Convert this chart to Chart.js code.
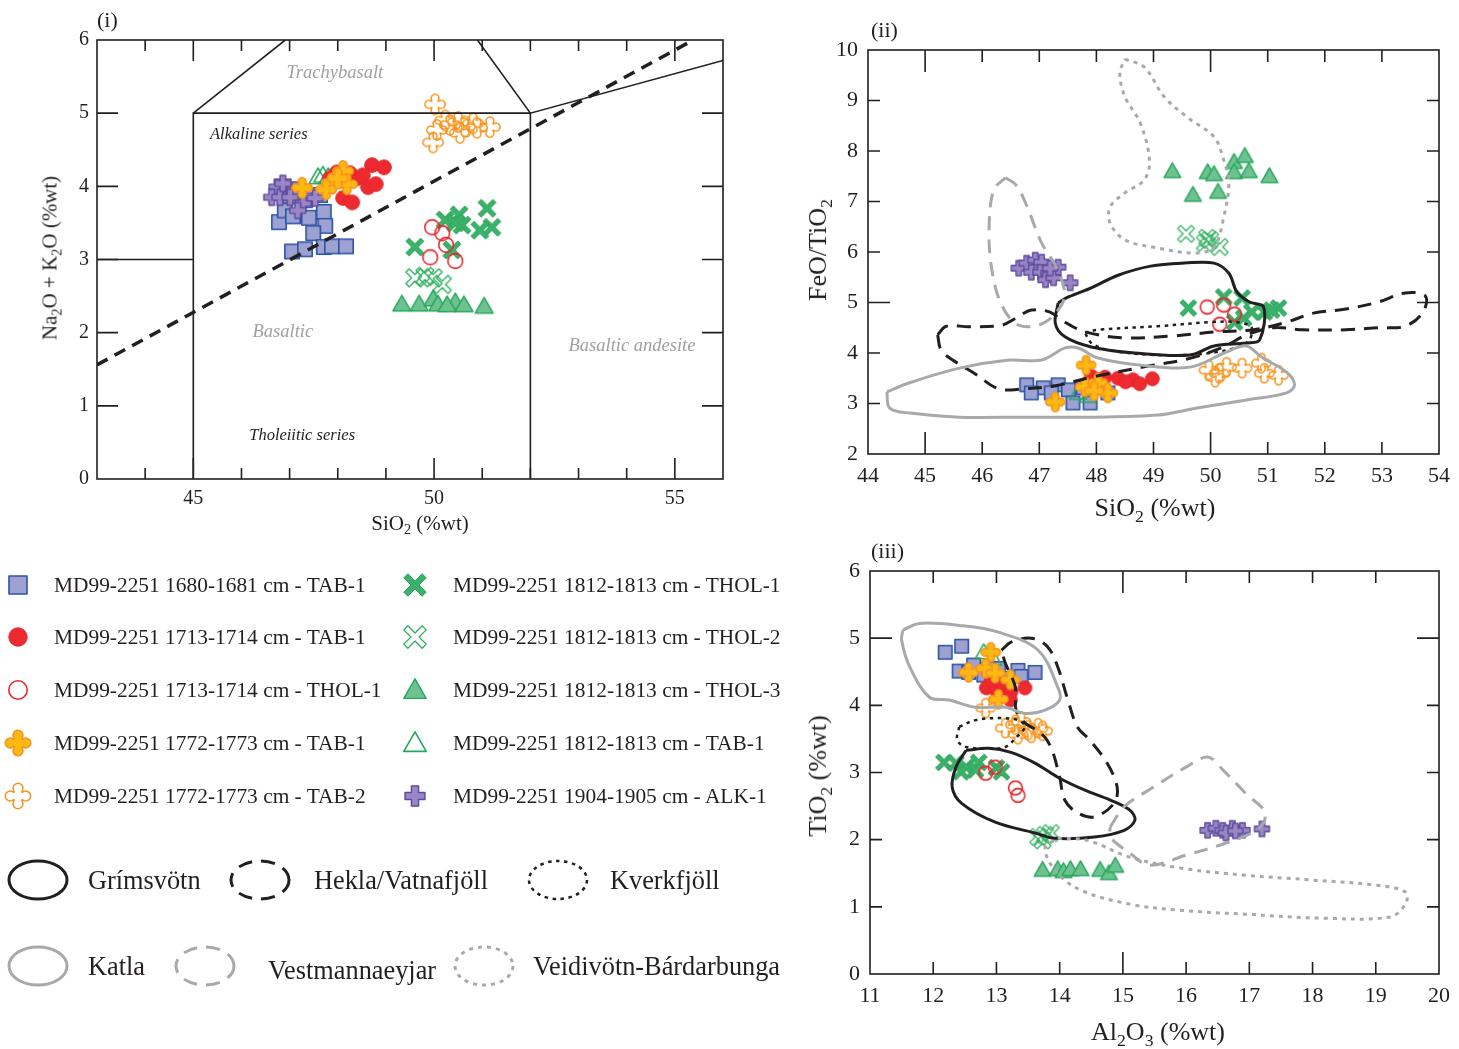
<!DOCTYPE html>
<html>
<head>
<title>MD99-2251 tephra geochemistry</title>
<script src="https://cdn.jsdelivr.net/npm/chart.js"></script>
<style>
  body { margin: 0; width: 1459px; height: 1049px; position: relative; overflow: hidden; background: #fff;
         font-family: "Liberation Serif", "Times New Roman", serif; color: #231f20; }
  .panel { position: absolute; }
  .t { position: absolute; white-space: nowrap; line-height: 1; }
  .ctr { transform: translate(-50%, -50%); }
  .rot { transform: translate(-50%, -50%) rotate(-90deg); }
  .mid { transform: translateY(-50%); }
  .cond { transform: translateY(-50%) scaleX(0.94); transform-origin: left center; }
  sub { font-size: 0.68em; vertical-align: -0.32em; line-height: 0; }
</style>
</head>
<body>
  <div class="panel" style="left:0;top:0"><canvas id="tas" width="740" height="545"></canvas></div>
  <div class="panel" style="left:800px;top:0"><canvas id="feo" width="659" height="530"></canvas></div>
  <div class="panel" style="left:800px;top:540px"><canvas id="tio" width="659" height="509"></canvas></div>
  <div class="panel" style="left:0;top:560px"><canvas id="key" width="800" height="489"></canvas></div>

  <div class="t" style="left:97px;top:9px;font-size:22px">(i)</div>
  <div class="t" style="left:871px;top:19px;font-size:22px">(ii)</div>
  <div class="t" style="left:871px;top:540px;font-size:22px">(iii)</div>

  <div class="t ctr" style="left:420px;top:523px;font-size:21px">SiO<sub>2</sub> (%wt)</div>
  <div class="t rot" style="left:50px;top:258px;font-size:21px">Na<sub>2</sub>O + K<sub>2</sub>O (%wt)</div>
  <div class="t ctr" style="left:1155px;top:508px;font-size:26px">SiO<sub>2</sub> (%wt)</div>
  <div class="t rot" style="left:818px;top:250px;font-size:26px">FeO/TiO<sub>2</sub></div>
  <div class="t ctr" style="left:1158px;top:1032px;font-size:26px">Al<sub>2</sub>O<sub>3</sub> (%wt)</div>
  <div class="t rot" style="left:818px;top:776px;font-size:26px">TiO<sub>2</sub> (%wt)</div>

  <div id="legendText"></div>

<script>
// ---------- legend labels ----------
const seriesLabels = [
  'MD99-2251 1680-1681 cm - TAB-1', 'MD99-2251 1713-1714 cm - TAB-1', 'MD99-2251 1713-1714 cm - THOL-1',
  'MD99-2251 1772-1773 cm - TAB-1', 'MD99-2251 1772-1773 cm - TAB-2', 'MD99-2251 1812-1813 cm - THOL-1',
  'MD99-2251 1812-1813 cm - THOL-2', 'MD99-2251 1812-1813 cm - THOL-3', 'MD99-2251 1812-1813 cm - TAB-1',
  'MD99-2251 1904-1905 cm - ALK-1'
];
const seriesMarkers = ['square', 'dot', 'ring', 'starFill', 'starOpen', 'xBold', 'xOpen', 'triFill', 'triOpen', 'plus'];
// stacking rank of each series (higher sits on top)
const seriesZ = [0, 8, 6, 9, 7, 2, 3, 4, 5, 1];
const envelopeLabels = ['Grímsvötn', 'Hekla/Vatnafjöll', 'Kverkfjöll', 'Katla', 'Vestmannaeyjar', 'Veidivötn-Bárdarbunga'];

// ---------- (i) total alkali vs silica ----------
const tasXTicks = [45, 50, 55];
const tasYTicks = [0, 1, 2, 3, 4, 5, 6];
const tas1680 = [[46.78,3.51],[46.90,3.67],[47.07,3.59],[47.40,3.57],[47.71,3.65],[47.74,3.46],[47.49,3.36],[47.05,3.11],[47.32,3.14],[47.71,3.17],[47.88,3.18],[48.17,3.18],[47.01,3.87],[47.32,3.81],[47.63,3.88]];
const tas1713a = [[48.71,4.29],[48.96,4.26],[48.63,3.99],[48.79,4.03],[48.11,3.84],[48.30,3.78],[48.25,4.18],[48.40,4.11],[48.52,4.15],[47.98,4.19],[47.84,4.11],[48.15,4.08]];
const tas1713b = [[49.96,3.44],[50.17,3.36],[50.25,3.20],[49.92,3.03],[50.44,2.98]];
const tas1772a = [[47.26,3.98],[48.11,4.21],[48.19,4.03],[47.88,4.04],[47.76,3.96],[48.00,4.11]];
const tas1772b = [[50.02,5.12],[50.23,4.90],[50.06,4.77],[49.98,4.60],[50.50,4.88],[50.54,4.73],[50.89,4.80],[51.16,4.81],[50.81,4.86],[50.33,4.84],[50.64,4.82]];
const tas1812a = [[49.60,3.17],[50.23,3.54],[50.52,3.61],[50.58,3.47],[50.37,3.13],[51.10,3.70],[51.20,3.44],[50.95,3.40],[50.44,3.50]];
const tas1812b = [[49.60,2.75],[49.81,2.77],[49.98,2.75],[50.17,2.66]];
const tas1812c = [[49.33,2.39],[49.69,2.39],[49.98,2.46],[50.08,2.39],[50.44,2.42],[50.62,2.38],[51.04,2.36],[50.27,2.38]];
const tas1812d = [[47.59,4.13],[47.69,4.15],[47.80,4.13]];
const tas1904 = [[46.74,3.99],[46.63,3.85],[46.80,3.85],[46.97,3.99],[47.11,3.95],[47.01,3.85],[47.28,3.77],[47.53,3.84],[47.17,3.67],[46.86,4.04]];
// field boundaries and alkaline/tholeiitic divide
const tasPicrite = [[43,3],[45,3]];
const tasBasalt = [[45,0],[45,5],[52,5],[52,0]];
const tasTrachyLeft = [[45,5],[46.91,6]];
const tasTrachyRight = [[50.9,6],[52,5],[56,5.72]];
const tasDivide = [[43,1.56],[55.3,5.97]];
const tasFieldNames = ['Trachybasalt', 'Alkaline series', 'Basaltic', 'Tholeiitic series', 'Basaltic andesite'];
const tasFieldAt = [[47.94,5.55],[46.36,4.70],[46.86,2.01],[47.26,0.59],[54.11,1.82]];

// ---------- (ii) FeO/TiO2 vs SiO2 ----------
const feXTicks = [44,45,46,47,48,49,50,51,52,53,54];
const feYTicks = [2,3,4,5,6,7,8,9,10];
const fe1680 = [[46.78,3.37],[47.07,3.31],[47.33,3.37],[47.51,3.27],[47.59,3.01],[47.89,3.01],[48.20,3.21],[46.86,3.21],[47.21,3.21],[47.77,3.31]];
const fe1713a = [[47.91,3.54],[48.15,3.52],[48.38,3.50],[48.64,3.47],[48.76,3.39],[48.98,3.49],[48.03,3.47],[48.51,3.43]];
const fe1713b = [[49.94,4.91],[50.23,4.95],[50.42,4.77],[50.16,4.57]];
const fe1772a = [[47.82,3.76],[47.28,3.03],[47.80,3.33],[48.03,3.41],[48.20,3.21],[47.96,3.25]];
const fe1772b = [[49.97,3.66],[50.15,3.60],[50.28,3.72],[50.55,3.70],[50.89,3.80],[50.94,3.60],[51.19,3.56],[50.08,3.52]];
const fe1812a = [[49.61,4.89],[50.23,5.11],[50.55,5.09],[50.42,4.61],[50.58,4.69],[50.94,4.81],[51.19,4.89],[51.07,4.85],[50.72,4.81]];
const fe1812b = [[49.57,6.36],[49.90,6.18],[49.94,6.28],[49.99,6.24],[50.16,6.10]];
const fe1812c = [[49.33,7.60],[49.95,7.58],[50.06,7.54],[50.41,7.78],[50.60,7.90],[50.41,7.58],[50.67,7.60],[51.03,7.50],[49.69,7.13],[50.13,7.19]];
const fe1812d = [[47.68,3.21],[47.85,3.15]];
const fe1904 = [[46.64,5.68],[46.78,5.78],[46.93,5.84],[47.04,5.80],[46.86,5.60],[47.02,5.60],[47.16,5.58],[47.11,5.45],[47.25,5.49],[47.33,5.70],[47.54,5.39],[47.19,5.68]];
const feGrims = [[47.33,4.99],[47.51,5.11],[47.91,5.29],[48.38,5.54],[48.95,5.72],[49.54,5.78],[50.06,5.78],[50.32,5.58],[50.46,5.21],[50.68,5.01],[50.93,4.91],[50.86,4.26],[50.63,4.20],[50.06,4.14],[49.64,3.96],[48.67,4.00],[47.91,4.12],[47.45,4.32],[47.28,4.59],[47.33,4.99]];
const feHekla = [[45.22,4.36],[45.37,4.53],[45.77,4.52],[46.34,4.55],[46.59,4.69],[46.86,4.85],[47.19,4.81],[47.39,4.65],[47.80,4.42],[48.50,4.30],[49.36,4.34],[50.11,4.42],[50.75,4.46],[51.33,4.61],[51.80,4.79],[52.37,4.87],[52.94,5.01],[53.41,5.19],[53.76,5.13],[53.72,4.81],[53.41,4.53],[52.94,4.50],[52.37,4.46],[51.62,4.46],[51.10,4.50],[50.63,4.36],[50.23,4.12],[49.59,3.88],[48.90,3.74],[47.91,3.52],[47.28,3.35],[46.73,3.29],[46.29,3.29],[45.86,3.60],[45.51,3.84],[45.28,4.06],[45.22,4.36]];
const feKverk = [[47.80,4.40],[48.03,4.46],[49.07,4.53],[49.99,4.61],[50.46,4.61],[50.72,4.50],[50.63,4.20],[49.99,4.00],[49.07,3.96],[48.20,4.06],[47.91,4.20],[47.80,4.40]];
const feKatla = [[44.33,3.23],[44.73,3.41],[45.60,3.70],[46.47,3.86],[47.04,3.86],[47.45,4.10],[47.68,4.10],[48.03,3.90],[48.77,3.76],[49.64,3.72],[50.28,4.02],[50.63,4.14],[50.89,3.92],[51.33,3.62],[51.47,3.37],[51.33,3.21],[50.63,3.07],[49.76,2.91],[49.07,2.77],[47.91,2.73],[46.76,2.73],[45.60,2.73],[44.73,2.81],[44.38,2.91],[44.33,3.23]];
const feVest = [[46.41,7.47],[46.59,7.33],[46.76,6.97],[47.04,6.18],[47.28,5.74],[47.44,5.25],[47.39,4.95],[47.07,4.59],[46.64,4.55],[46.34,4.95],[46.17,5.64],[46.12,6.44],[46.20,7.23],[46.41,7.47]];
const feVeidi = [[48.50,9.82],[48.84,9.66],[49.19,9.07],[49.59,8.67],[50.06,8.28],[50.23,7.82],[50.32,7.37],[50.23,6.69],[50.06,6.10],[49.71,5.98],[49.07,6.08],[48.50,6.24],[48.24,6.57],[48.24,6.89],[48.50,7.17],[48.84,7.43],[48.93,7.82],[48.77,8.55],[48.50,9.07],[48.41,9.54],[48.50,9.82]];

// ---------- (iii) TiO2 vs Al2O3 ----------
const tiXTicks = [11,12,13,14,15,16,17,18,19,20];
const tiYTicks = [0,1,2,3,4,5,6];
const ti1680 = [[12.19,4.79],[12.45,4.88],[12.41,4.51],[12.56,4.49],[12.80,4.45],[13.03,4.55],[13.14,4.40],[13.34,4.52],[13.39,4.43],[13.61,4.49],[12.64,4.60],[12.88,4.55]];
const ti1713a = [[12.84,4.26],[12.98,4.24],[13.14,4.26],[13.23,4.20],[13.45,4.26],[13.03,4.12],[13.22,4.08],[12.92,4.38],[13.08,4.35]];
const ti1713b = [[12.83,2.99],[12.98,3.08],[13.30,2.77],[13.34,2.66]];
const ti1772a = [[12.91,4.79],[12.56,4.49],[12.83,4.55],[12.98,4.48],[13.22,4.38],[13.03,4.09]];
const ti1772b = [[12.83,3.96],[13.14,3.66],[13.30,3.71],[13.39,3.76],[13.50,3.63],[13.66,3.66],[13.73,3.62],[13.34,3.57],[13.55,3.59]];
const ti1812a = [[12.17,3.15],[12.36,3.14],[12.52,3.08],[12.72,3.15],[12.67,3.04],[13.00,3.07],[13.08,3.01],[12.44,3.01]];
const ti1812b = [[13.66,2.04],[13.77,2.07],[13.86,2.10],[13.73,1.99]];
const ti1812c = [[13.73,1.55],[13.97,1.56],[14.06,1.53],[14.17,1.56],[14.33,1.56],[14.64,1.55],[14.78,1.50],[14.88,1.61]];
const ti1812d = [[12.80,4.79],[12.95,4.69]];
const ti1904 = [[16.34,2.14],[16.47,2.17],[16.58,2.14],[16.73,2.17],[16.89,2.14],[16.63,2.10],[17.20,2.16],[16.78,2.13]];
const tiGrims = [[12.52,3.33],[12.36,3.08],[12.30,2.78],[12.45,2.54],[12.98,2.26],[13.61,2.10],[13.92,2.02],[14.55,2.04],[15.02,2.14],[15.19,2.29],[15.11,2.44],[14.80,2.59],[14.39,2.74],[13.97,2.93],[13.61,3.14],[13.23,3.30],[12.88,3.36],[12.52,3.33]];
const tiHekla = [[13.08,4.82],[13.23,4.94],[13.55,5.00],[13.81,4.87],[13.97,4.57],[14.13,4.08],[14.28,3.68],[14.48,3.48],[14.75,3.14],[14.91,2.78],[14.86,2.54],[14.55,2.34],[14.28,2.40],[14.08,2.59],[14.00,2.93],[13.86,3.38],[13.70,3.59],[13.45,3.74],[13.31,3.93],[13.30,4.27],[13.14,4.63],[13.08,4.82]];
const tiKverk = [[12.41,3.68],[12.38,3.48],[12.52,3.38],[12.88,3.36],[13.14,3.38],[13.30,3.51],[13.45,3.68],[13.34,3.78],[13.03,3.81],[12.67,3.78],[12.41,3.68]];
const tiKatla = [[11.52,5.12],[11.78,5.22],[12.41,5.19],[13.03,5.09],[13.66,4.82],[13.97,4.27],[14.00,4.08],[13.77,3.93],[13.45,3.88],[13.14,3.97],[12.67,3.97],[12.25,4.08],[11.94,4.12],[11.63,4.57],[11.50,4.97],[11.52,5.12]];
const tiVest = [[14.80,2.19],[15.02,2.49],[15.48,2.78],[16.00,3.08],[16.34,3.23],[16.58,3.04],[16.94,2.69],[17.25,2.40],[17.14,2.16],[16.63,1.95],[16.00,1.77],[15.42,1.62],[15.11,1.80],[14.80,2.04],[14.80,2.19]];
const tiVeidi = [[13.97,2.02],[14.44,1.99],[15.11,1.74],[15.89,1.58],[16.94,1.47],[17.98,1.40],[19.02,1.32],[19.47,1.22],[19.47,1.04],[19.23,0.85],[18.19,0.83],[16.94,0.89],[15.89,0.95],[15.11,1.04],[14.33,1.25],[13.92,1.55],[13.77,1.88],[13.97,2.02]];

// ---------- styles ----------
const INK = '#231f20';
const GREY = '#a7a9ac';
const markerStyle = {
  square:   { fill: '#9ea2d3', stroke: '#2b55a5', lw: 1.6, k: 1 },
  dot:      { fill: '#ed2a2f', stroke: '#e3262b', lw: 1,   k: 1 },
  ring:     { fill: null,      stroke: '#e8262b', lw: 1.6, k: 1 },
  starFill: { fill: '#fdb913', stroke: '#f7941d', lw: 1.6, k: 1.3 },
  starOpen: { fill: null,      stroke: '#f7941d', lw: 1.5, k: 1.3 },
  xBold:    { fill: '#3ab26a', stroke: '#2ea15c', lw: 1,   k: 1.1 },
  xOpen:    { fill: null,      stroke: '#2fae5e', lw: 1.3, k: 1.1 },
  triFill:  { fill: '#6dc290', stroke: '#25a75b', lw: 1.4, k: 1.12 },
  triOpen:  { fill: null,      stroke: '#25a75b', lw: 1.6, k: 1.12 },
  plus:     { fill: '#9a86c4', stroke: '#5d4b9e', lw: 1.4, k: 1.05 }
};
const envStyle = [
  { color: INK,  width: 3,   dash: [] },
  { color: INK,  width: 3,   dash: [14, 9] },
  { color: INK,  width: 2.5, dash: [3.5, 4.5] },
  { color: GREY, width: 3,   dash: [] },
  { color: GREY, width: 3,   dash: [14, 9] },
  { color: GREY, width: 3,   dash: [4, 5] }
];

function crossPts(a, L, rot) {
  const base = [[a,-L],[a,-a],[L,-a],[L,a],[a,a],[a,L],[-a,L],[-a,a],[-L,a],[-L,-a],[-a,-a],[-a,-L]];
  const c = Math.cos(rot), s = Math.sin(rot);
  return base.map(p => [p[0]*c - p[1]*s, p[0]*s + p[1]*c]);
}

// draws marker centred on 0,0
function markerPath(ctx, kind, s) {
  const h = s / 2;
  ctx.beginPath();
  if (kind === 'square') {
    ctx.rect(-h*0.9, -h*0.9, h*1.8, h*1.8);
  } else if (kind === 'dot' || kind === 'ring') {
    ctx.arc(0, 0, h*0.92, 0, Math.PI*2);
  } else if (kind === 'starFill' || kind === 'starOpen') {
    // rounded cross: four lobes joined by concave notches
    const d = s*0.3, r = s*0.19, beta = 1.95, ci = s*0.13;
    for (let k = 0; k < 4; k++) {
      const th = k*Math.PI/2;
      const cx = d*Math.cos(th), cy = d*Math.sin(th);
      if (k > 0) {
        const mid = th - Math.PI/4;
        ctx.quadraticCurveTo(ci*Math.cos(mid), ci*Math.sin(mid), cx + r*Math.cos(th-beta), cy + r*Math.sin(th-beta));
      } else {
        ctx.moveTo(cx + r*Math.cos(th-beta), cy + r*Math.sin(th-beta));
      }
      ctx.arc(cx, cy, r, th - beta, th + beta);
    }
    const mid = -Math.PI/4;
    ctx.quadraticCurveTo(ci*Math.cos(mid), ci*Math.sin(mid), d + r*Math.cos(-beta), r*Math.sin(-beta));
    ctx.closePath();
  } else if (kind === 'xBold' || kind === 'xOpen') {
    const pts = crossPts(h*0.26, h*1.18, Math.PI/4);
    pts.forEach((p, i) => i ? ctx.lineTo(p[0], p[1]) : ctx.moveTo(p[0], p[1]));
    ctx.closePath();
  } else if (kind === 'plus') {
    const pts = crossPts(h*0.34, h*0.95, 0);
    pts.forEach((p, i) => i ? ctx.lineTo(p[0], p[1]) : ctx.moveTo(p[0], p[1]));
    ctx.closePath();
  } else if (kind === 'triFill' || kind === 'triOpen') {
    ctx.moveTo(0, -h*1.0);
    ctx.lineTo(h*1.0, h*0.75);
    ctx.lineTo(-h*1.0, h*0.75);
    ctx.closePath();
  }
}

function paintMarker(ctx, kind, x, y, s) {
  const st = markerStyle[kind];
  ctx.save();
  ctx.translate(x, y);
  markerPath(ctx, kind, s * st.k);
  if (st.fill) { ctx.fillStyle = st.fill; ctx.fill(); }
  ctx.lineJoin = 'round';
  ctx.lineWidth = st.lw;
  ctx.strokeStyle = st.stroke;
  ctx.stroke();
  ctx.restore();
}

function markerImg(kind, s) {
  const c = document.createElement('canvas');
  c.width = c.height = Math.ceil(s*1.35 + 6);
  paintMarker(c.getContext('2d'), kind, c.width/2, c.height/2, s);
  return c;
}

const toXY = arr => arr.map(p => ({ x: p[0], y: p[1] }));

// inward ticks on all four sides + frame
function framePlugin(tk) {
  return {
    id: 'frame',
    afterDraw(chart) {
      const { ctx, chartArea: a } = chart;
      const x = chart.scales.x, y = chart.scales.y;
      ctx.save();
      ctx.strokeStyle = INK;
      ctx.lineWidth = 1.6;
      ctx.strokeRect(a.left, a.top, a.right - a.left, a.bottom - a.top);
      ctx.beginPath();
      for (let i = 0; ; i++) {
        const v = Math.round((tk.xFrom + i*tk.xStep)*1000)/1000;
        if (v > tk.xTo) break;
        const px = x.getPixelForValue(v);
        const len = tk.xMajor.includes(v) ? tk.major : tk.minor;
        ctx.moveTo(px, a.bottom); ctx.lineTo(px, a.bottom - len);
        ctx.moveTo(px, a.top); ctx.lineTo(px, a.top + len);
      }
      for (let i = 0; ; i++) {
        const v = Math.round((tk.yFrom + i*tk.yStep)*1000)/1000;
        if (v > tk.yTo) break;
        const py = y.getPixelForValue(v);
        const len = tk.yMajor.includes(v) ? tk.major : tk.minor;
        ctx.moveTo(a.left, py); ctx.lineTo(a.left + len, py);
        ctx.moveTo(a.right, py); ctx.lineTo(a.right - len, py);
      }
      ctx.stroke();
      ctx.restore();
    }
  };
}

function fieldLabels(names, at, styles) {
  return {
    id: 'fields',
    beforeDatasetsDraw(chart) {
      const { ctx } = chart;
      ctx.save();
      ctx.textAlign = 'center';
      ctx.textBaseline = 'middle';
      names.forEach((n, i) => {
        ctx.font = styles[i].font;
        ctx.fillStyle = styles[i].color;
        ctx.fillText(n, chart.scales.x.getPixelForValue(at[i][0]), chart.scales.y.getPixelForValue(at[i][1]));
      });
      ctx.restore();
    }
  };
}

function buildPanel(id, cfg) {
  const datasets = [];
  // lower order is drawn later (on top); outlines go on top of all points
  cfg.points.forEach((arr, i) => datasets.push({
    data: toXY(arr), showLine: false, order: 100 - seriesZ[i],
    pointStyle: markerImg(seriesMarkers[i], cfg.marker), pointRadius: cfg.marker/2, pointHoverRadius: cfg.marker/2
  }));
  cfg.lines.forEach((l, i) => datasets.push({
    data: toXY(l.data), showLine: true, pointRadius: 0, pointHoverRadius: 0, order: 10 - i,
    borderColor: l.color, borderWidth: l.width, borderDash: l.dash, tension: l.tension || 0,
    borderCapStyle: 'butt', fill: false
  }));
  const tickFont = { family: '"Liberation Serif", serif', size: cfg.tickSize };
  return new Chart(document.getElementById(id), {
    type: 'scatter',
    data: { datasets },
    options: {
      responsive: false, animation: false, devicePixelRatio: 1,
      events: [],
      layout: { padding: { top: cfg.pad.top, right: cfg.pad.right, left: 0, bottom: 0 } },
      plugins: { legend: { display: false }, tooltip: { enabled: false } },
      scales: {
        x: {
          type: 'linear', min: cfg.x.min, max: cfg.x.max,
          grid: { display: false, drawTicks: false }, border: { display: false },
          ticks: { font: tickFont, color: INK, padding: cfg.x.pad, maxRotation: 0 },
          afterBuildTicks: s => { s.ticks = cfg.x.ticks.map(v => ({ value: v })); },
          afterFit: s => { s.height = cfg.x.h; }
        },
        y: {
          type: 'linear', min: cfg.y.min, max: cfg.y.max,
          grid: { display: false, drawTicks: false }, border: { display: false },
          ticks: { font: tickFont, color: INK, padding: cfg.y.pad },
          afterBuildTicks: s => { s.ticks = cfg.y.ticks.map(v => ({ value: v })); },
          afterFit: s => { s.width = cfg.y.w; }
        }
      }
    },
    plugins: [framePlugin(cfg.tk)].concat(cfg.extra || [])
  });
}

// (i)
const thin = { color: INK, width: 1.6, dash: [] };
buildPanel('tas', {
  points: [tas1680, tas1713a, tas1713b, tas1772a, tas1772b, tas1812a, tas1812b, tas1812c, tas1812d, tas1904],
  lines: [
    Object.assign({ data: tasPicrite }, thin),
    Object.assign({ data: tasBasalt }, thin),
    Object.assign({ data: tasTrachyLeft }, thin),
    Object.assign({ data: tasTrachyRight }, thin),
    { data: tasDivide, color: INK, width: 3.5, dash: [12, 8] }
  ],
  marker: 16, tickSize: 20,
  pad: { top: 40, right: 17 },
  x: { min: 43, max: 56, ticks: tasXTicks, pad: 8, h: 66 },
  y: { min: 0, max: 6, ticks: tasYTicks, pad: 8, w: 97 },
  tk: { xFrom: 44, xTo: 55, xStep: 1, xMajor: [45, 50, 55], yFrom: 1, yTo: 5, yStep: 1, yMajor: [1, 2, 3, 4, 5], major: 21, minor: 11 },
  extra: [fieldLabels(tasFieldNames, tasFieldAt, [
    { font: 'italic 18.5px "Liberation Serif"', color: '#a0a0a3' },
    { font: 'italic 16.5px "Liberation Serif"', color: INK },
    { font: 'italic 18.5px "Liberation Serif"', color: '#a0a0a3' },
    { font: 'italic 16.5px "Liberation Serif"', color: INK },
    { font: 'italic 18.5px "Liberation Serif"', color: '#a0a0a3' }
  ])]
});

// (ii)
const feEnv = [feGrims, feHekla, feKverk, feKatla, feVest, feVeidi];
buildPanel('feo', {
  points: [fe1680, fe1713a, fe1713b, fe1772a, fe1772b, fe1812a, fe1812b, fe1812c, fe1812d, fe1904],
  lines: feEnv.map((d, i) => Object.assign({ data: d, tension: 0.35 }, envStyle[i])),
  marker: 15, tickSize: 22,
  pad: { top: 50, right: 15 },
  x: { min: 44, max: 54, ticks: feXTicks, pad: 9, h: 76 },
  y: { min: 2, max: 10, ticks: feYTicks, pad: 10, w: 68 },
  tk: { xFrom: 45, xTo: 53, xStep: 1, xMajor: [45, 50], yFrom: 3, yTo: 9, yStep: 1, yMajor: [5], major: 22, minor: 12 }
});

// (iii)
const tiEnv = [tiGrims, tiHekla, tiKverk, tiKatla, tiVest, tiVeidi];
buildPanel('tio', {
  points: [ti1680, ti1713a, ti1713b, ti1772a, ti1772b, ti1812a, ti1812b, ti1812c, ti1812d, ti1904],
  lines: tiEnv.map((d, i) => Object.assign({ data: d, tension: 0.35 }, envStyle[i])),
  marker: 15, tickSize: 22,
  pad: { top: 31, right: 13 },
  x: { min: 11, max: 20, ticks: tiXTicks, pad: 9, h: 75 },
  y: { min: 0, max: 6, ticks: tiYTicks, pad: 10, w: 70 },
  tk: { xFrom: 12, xTo: 19, xStep: 1, xMajor: [15], yFrom: 1, yTo: 5, yStep: 1, yMajor: [5], major: 22, minor: 12 }
});

// ---------- key ----------
const keyRows = [585, 637, 690, 743, 796];
const keyCols = [{ mark: 18, text: 54 }, { mark: 415, text: 453 }];
const envKey = [
  { cx: 38,  cy: 880, tx: 88,  ty: 880 },
  { cx: 260, cy: 880, tx: 314, ty: 880 },
  { cx: 558, cy: 880, tx: 610, ty: 880 },
  { cx: 38,  cy: 966, tx: 88,  ty: 966 },
  { cx: 205, cy: 966, tx: 268, ty: 970 },
  { cx: 484, cy: 966, tx: 533, ty: 966 }
];
const keyTop = 560;
const kctx = document.getElementById('key').getContext('2d');
const holder = document.getElementById('legendText');
seriesLabels.forEach((lab, i) => {
  const col = keyCols[Math.floor(i / 5)], row = keyRows[i % 5];
  paintMarker(kctx, seriesMarkers[i], col.mark, row - keyTop, 20);
  const d = document.createElement('div');
  d.className = 't mid';
  d.style.cssText = `left:${col.text}px;top:${row + 1}px;font-size:21.4px`;
  d.textContent = lab;
  holder.appendChild(d);
});
envelopeLabels.forEach((lab, i) => {
  const k = envKey[i], st = envStyle[i];
  kctx.save();
  kctx.strokeStyle = st.color;
  kctx.lineWidth = st.width;
  kctx.setLineDash(st.dash);
  kctx.beginPath();
  kctx.ellipse(k.cx, k.cy - keyTop, 29, 19, 0, 0, Math.PI*2);
  kctx.stroke();
  kctx.restore();
  const d = document.createElement('div');
  d.className = 't cond';
  d.style.cssText = `left:${k.tx}px;top:${k.ty}px;font-size:28px`;
  d.textContent = lab;
  holder.appendChild(d);
});
</script>
</body>
</html>
